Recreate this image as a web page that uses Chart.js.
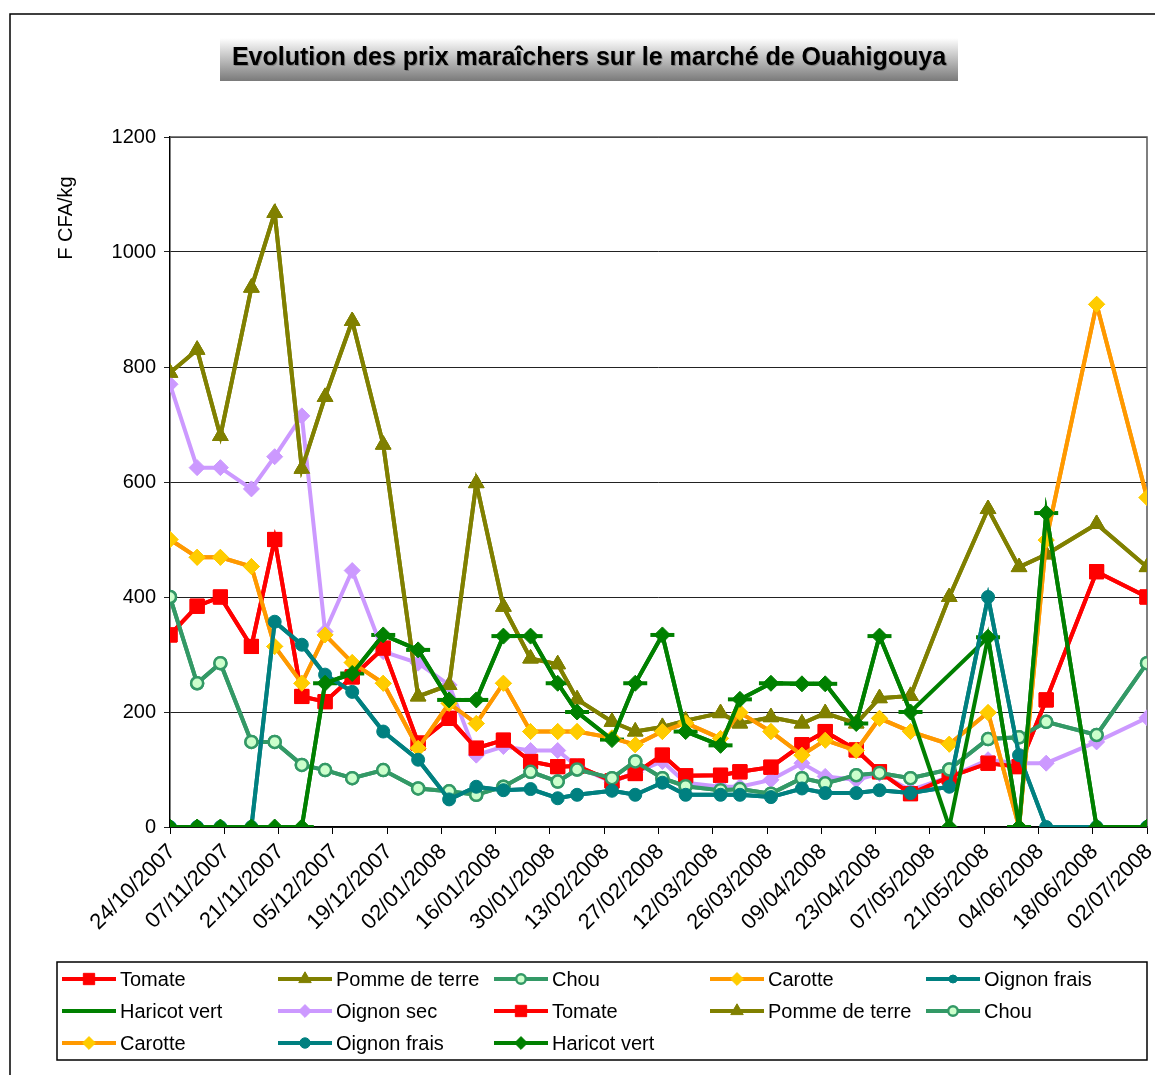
<!DOCTYPE html>
<html lang="fr">
<head>
<meta charset="UTF-8">
<title>Evolution des prix maraîchers – Ouahigouya</title>
<style>
  html, body { margin: 0; padding: 0; background: #fff; }
  #wrap { width: 1155px; height: 1075px; }
</style>
</head>
<body>
<div id="wrap"><canvas id="prix" width="1155" height="1075"></canvas></div>
<script src="https://cdn.jsdelivr.net/npm/chart.js"></script>
<script>
// dates des relevés (jj/mm/aaaa)
const dates = ['24/10/2007','31/10/2007','06/11/2007','14/11/2007','20/11/2007','27/11/2007','03/12/2007',
  '10/12/2007','18/12/2007','27/12/2007','04/01/2008','11/01/2008','18/01/2008','25/01/2008','01/02/2008',
  '06/02/2008','15/02/2008','21/02/2008','28/02/2008','05/03/2008','14/03/2008','19/03/2008','27/03/2008',
  '04/04/2008','10/04/2008','18/04/2008','24/04/2008','02/05/2008','12/05/2008','22/05/2008','30/05/2008',
  '06/06/2008','19/06/2008','02/07/2008'];

// prix en F CFA/kg
const tomate      = [334,384,400,314,500,227,218,261,311,146,189,137,151,114,105,106,80,93,125,89,90,96,104,143,166,134,96,58,87,111,105,221,444,400];
const pommeDeTerre= [790,830,680,938,1068,623,748,880,665,227,247,598,383,293,283,222,183,166,174,185,198,180,191,180,198,180,224,228,400,553,452,474,527,452];
const chou        = [400,250,285,148,148,108,99,85,99,67,62,56,70,96,79,100,85,114,85,71,64,66,58,85,76,90,94,85,100,153,156,183,160,285];
const carotte     = [500,469,469,453,314,250,334,286,250,137,215,180,250,166,166,166,155,143,166,181,154,199,166,125,151,133,189,166,144,199,0,499,909,573];
const oignonFrais = [0,0,0,0,357,317,265,235,166,117,48,70,64,66,50,56,63,56,77,56,56,56,52,67,59,59,64,59,70,400,125,0,0,0];
const haricotVert = [0,0,0,0,0,0,250,267,334,308,221,221,332,332,250,200,152,250,334,166,142,222,250,249,249,180,332,200,0,330,0,546,0,0];
const haricotVertA= [0,0,0,0,0,0,250,267,334,308,221,221,332,332,250,200,152,250,334,166,142,222,250,249,249,180,332,200,null,330,0,546,0,0];
const oignonSec   = [770,625,625,588,644,715,340,446,305,285,247,125,140,133,133,105,78,95,114,77,70,70,82,111,88,82,93,64,87,117,111,111,148,190];

const FONT = "'Liberation Sans', Arial, sans-serif";
const DAY = 86400000;

function toUTC(s) {
  const [d, m, y] = s.split('/').map(Number);
  return Date.UTC(y, m - 1, d);
}
const t0 = toUTC(dates[0]);
const days = dates.map(s => Math.round((toUTC(s) - t0) / DAY));

function dayLabel(v) {
  const d = new Date(t0 + v * DAY);
  const p = n => String(n).padStart(2, '0');
  return p(d.getUTCDate()) + '/' + p(d.getUTCMonth() + 1) + '/' + d.getUTCFullYear();
}

function serie(label, values, color, style, extra) {
  return Object.assign({
    label: label,
    data: values.map((v, i) => ({ x: days[i], y: v })),
    borderColor: color,
    backgroundColor: color,
    borderWidth: 4,
    pointStyle: style.shape,
    pointRadius: style.r,
    pointHoverRadius: style.r,
    pointBackgroundColor: style.fill || color,
    pointBorderColor: style.stroke || style.fill || color,
    pointBorderWidth: style.bw || 1,
    tension: 0,
    fill: false,
    spanGaps: true
  }, extra || {});
}

const datasets = [
  serie('Tomate', tomate, '#ff0000', { shape: 'rect', r: 10 }),
  serie('Pomme de terre', pommeDeTerre, '#808000', { shape: 'triangle', r: 9 }),
  serie('Chou', chou, '#339966', { shape: 'circle', r: 6, fill: '#ccffcc', stroke: '#339966', bw: 2.5 }),
  serie('Carotte', carotte, '#ff9900', { shape: 'rectRot', r: 8, fill: '#ffcc00' }),
  serie('Oignon frais', oignonFrais, '#008080', { shape: 'circle', r: 5 }),
  serie('Haricot vert', haricotVertA, '#008000', { shape: 'line', r: 12, bw: 4 }),
  serie('Oignon sec', oignonSec, '#cc99ff', { shape: 'rectRot', r: 8 }),
  serie('Tomate', tomate, '#ff0000', { shape: 'rect', r: 10 }),
  serie('Pomme de terre', pommeDeTerre, '#808000', { shape: 'triangle', r: 9 }),
  serie('Chou', chou, '#339966', { shape: 'circle', r: 6, fill: '#ccffcc', stroke: '#339966', bw: 2.5 }),
  serie('Carotte', carotte, '#ff9900', { shape: 'rectRot', r: 8, fill: '#ffcc00' }),
  serie('Oignon frais', oignonFrais, '#008080', { shape: 'circle', r: 6.5 }),
  serie('Haricot vert', haricotVert, '#008000', { shape: 'rectRot', r: 8 })
];
// comme dans Excel : la dernière série est dessinée au-dessus
datasets.forEach((ds, i) => { ds.order = datasets.length - i; });

function marker(ctx, ds, x, y, scale) {
  ctx.save();
  ctx.fillStyle = ds.pointBackgroundColor;
  ctx.strokeStyle = ds.pointBorderColor;
  ctx.lineWidth = ds.pointBorderWidth;
  Chart.helpers.drawPoint(ctx, {
    pointStyle: ds.pointStyle, rotation: 0,
    radius: ds.pointRadius * scale, borderWidth: ds.pointBorderWidth
  }, x, y);
  ctx.restore();
}

const decor = {
  id: 'decor',
  beforeDraw(chart) {
    const ctx = chart.ctx;
    ctx.save();
    ctx.fillStyle = '#fff';
    ctx.fillRect(0, 0, chart.width, chart.height);
    // cadre extérieur
    ctx.strokeStyle = '#000';
    ctx.lineWidth = 1.5;
    ctx.beginPath();
    ctx.moveTo(10, chart.height);
    ctx.lineTo(10, 14);
    ctx.lineTo(chart.width, 14);
    ctx.stroke();
    // titre
    const g = ctx.createLinearGradient(0, 38, 0, 81);
    g.addColorStop(0, '#ffffff');
    g.addColorStop(1, '#7a7a7a');
    ctx.fillStyle = g;
    ctx.fillRect(220, 38, 738, 43);
    ctx.shadowColor = 'rgba(0,0,0,0.25)';
    ctx.shadowOffsetX = 1;
    ctx.shadowOffsetY = 1;
    ctx.fillStyle = '#000';
    ctx.font = 'bold 25px ' + FONT;
    ctx.textAlign = 'center';
    ctx.textBaseline = 'middle';
    ctx.fillText('Evolution des prix maraîchers sur le marché de Ouahigouya', 589, 58);
    ctx.shadowColor = 'transparent';
    // titre de l'axe vertical
    ctx.translate(66, 218);
    ctx.rotate(-Math.PI / 2);
    ctx.font = '20px ' + FONT;
    ctx.fillText('F CFA/kg', 0, 0);
    ctx.restore();
  },
  beforeDatasetsDraw(chart) {
    const a = chart.chartArea, ctx = chart.ctx;
    ctx.save();
    ctx.strokeStyle = '#555';
    ctx.lineWidth = 1.5;
    ctx.beginPath();
    ctx.moveTo(a.left, a.top);
    ctx.lineTo(a.right, a.top);
    ctx.lineTo(a.right, a.bottom);
    ctx.stroke();
    ctx.restore();
  },
  afterDraw(chart) {
    const ctx = chart.ctx;
    ctx.save();
    ctx.strokeStyle = '#000';
    ctx.lineWidth = 1.5;
    ctx.strokeRect(57, 962, 1090, 98);
    ctx.font = '20px ' + FONT;
    ctx.textBaseline = 'middle';
    ctx.textAlign = 'left';
    chart.data.datasets.forEach((ds, i) => {
      const x0 = 62 + (i % 5) * 216;
      const y = 979 + Math.floor(i / 5) * 32;
      ctx.strokeStyle = ds.borderColor;
      ctx.lineWidth = ds.borderWidth;
      ctx.beginPath();
      ctx.moveTo(x0, y);
      ctx.lineTo(x0 + 54, y);
      ctx.stroke();
      marker(ctx, ds, x0 + 27, y, 0.8);
      ctx.fillStyle = '#000';
      ctx.fillText(ds.label, x0 + 58, y + 1);
    });
    ctx.restore();
  }
};

new Chart(document.getElementById('prix'), {
  type: 'line',
  data: { datasets: datasets },
  plugins: [decor],
  options: {
    responsive: false,
    animation: false,
    layout: { autoPadding: false, padding: { left: 110, top: 137, right: 8, bottom: 118 } },
    plugins: { legend: { display: false }, tooltip: { enabled: false }, title: { display: false } },
    scales: {
      x: {
        type: 'linear',
        min: 0,
        max: days[days.length - 1],
        grid: { drawOnChartArea: false, drawTicks: true, tickLength: 7, color: '#000' },
        border: { display: true, color: '#000', width: 1.5 },
        ticks: {
          stepSize: 14, autoSkip: false, maxRotation: 45, minRotation: 45, padding: 5, labelOffset: 2,
          color: '#000', font: { family: FONT, size: 22 },
          callback: v => dayLabel(v)
        },
        afterFit(s) { s.height = 130; s.paddingLeft = 0; s.paddingRight = 0; }
      },
      y: {
        min: 0,
        max: 1200,
        grid: { color: '#222', tickLength: 6, lineWidth: 1 },
        border: { display: true, color: '#000', width: 1.5 },
        ticks: { stepSize: 200, padding: 8, color: '#000', font: { family: FONT, size: 20 }, callback: v => String(v) },
        afterFit(s) { s.width = 60; s.paddingTop = 0; s.paddingBottom = 0; }
      }
    }
  }
});
</script>
</body>
</html>
